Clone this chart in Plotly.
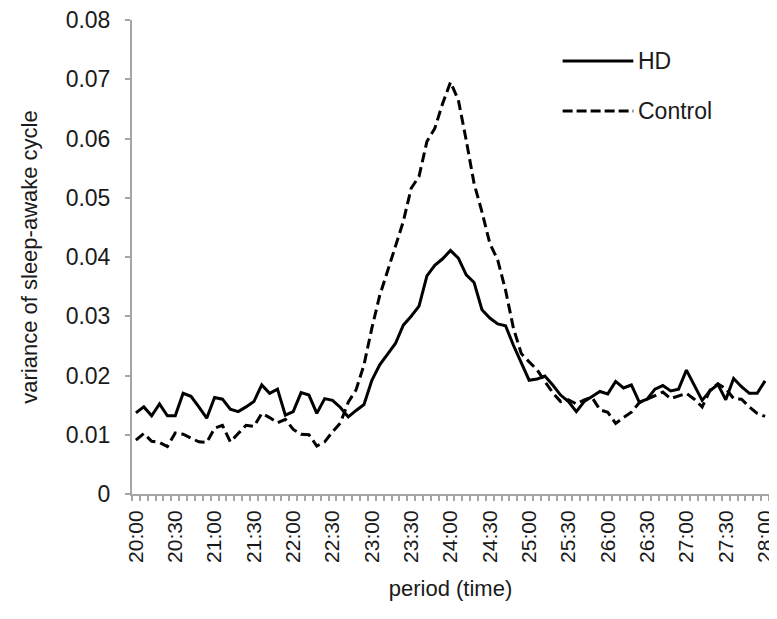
import plotly.graph_objects as go

# 81 samples every 6 minutes from 20:00 to 28:00
time_labels = ["20:00", "20:30", "21:00", "21:30", "22:00", "22:30", "23:00", "23:30",
               "24:00", "24:30", "25:00", "25:30", "26:00", "26:30", "27:00", "27:30", "28:00"]

hd = [0.0137, 0.0147, 0.0132, 0.0152, 0.0132, 0.0132, 0.0170, 0.0165, 0.0147, 0.0128,
      0.0163, 0.0160, 0.0143, 0.0139, 0.0147, 0.0156, 0.0184, 0.0170, 0.0177, 0.0133,
      0.0139, 0.0171, 0.0167, 0.0136, 0.0161, 0.0158, 0.0146, 0.0130, 0.0141, 0.0151,
      0.0192, 0.0218, 0.0236, 0.0254, 0.0285, 0.0300, 0.0317, 0.0368, 0.0386, 0.0397,
      0.0411, 0.0398, 0.0370, 0.0357, 0.0311, 0.0297, 0.0287, 0.0284, 0.0251, 0.0221,
      0.0192, 0.0194, 0.0199, 0.0184, 0.0167, 0.0156, 0.0139, 0.0156, 0.0164, 0.0173,
      0.0169, 0.0190, 0.0179, 0.0184, 0.0155, 0.0160, 0.0177, 0.0183, 0.0174, 0.0177,
      0.0209, 0.0183, 0.0158, 0.0174, 0.0185, 0.0159, 0.0195, 0.0181, 0.0170, 0.0170,
      0.0191]

control = [0.0091, 0.0102, 0.0089, 0.0087, 0.0080, 0.0103, 0.0101, 0.0094, 0.0088, 0.0087,
           0.0111, 0.0116, 0.0088, 0.0102, 0.0116, 0.0114, 0.0136, 0.0129, 0.0120, 0.0126,
           0.0109, 0.0101, 0.0100, 0.0081, 0.0088, 0.0105, 0.0120, 0.0155, 0.0176, 0.0218,
           0.0280, 0.0335, 0.0375, 0.0418, 0.0460, 0.0516, 0.0536, 0.0595, 0.0617, 0.0659,
           0.0695, 0.0665, 0.0597, 0.0524, 0.0476, 0.0423, 0.0395, 0.0344, 0.0280, 0.0237,
           0.0223, 0.0210, 0.0190, 0.0171, 0.0156, 0.0159, 0.0152, 0.0159, 0.0163, 0.0142,
           0.0138, 0.0119, 0.0129, 0.0138, 0.0154, 0.0160, 0.0167, 0.0172, 0.0161, 0.0165,
           0.0170, 0.0160, 0.0147, 0.0175, 0.0186, 0.0178, 0.0161, 0.0160, 0.0147, 0.0136,
           0.0131]

x = list(range(len(hd)))
label_step = 5
tickvals = list(range(0, len(hd), label_step))

FONT = "Liberation Sans, Arial, sans-serif"
TXT = "#1a1a1a"
AX = "#a6a6a6"
FS = 23

fig = go.Figure()
fig.add_trace(go.Scatter(x=x, y=hd, mode="lines", name="HD",
                         line=dict(color="black", width=3), showlegend=False))
fig.add_trace(go.Scatter(x=x, y=control, mode="lines", name="Control",
                         line=dict(color="black", width=3, dash="10px,5px"), showlegend=False))

# legend drawn manually (long line samples as in the reference)
leg = [("HD", "solid", 0.9135), ("Control", "10px,4px", 0.808)]
for name, dash, yy in leg:
    fig.add_shape(type="line", xref="paper", yref="paper", x0=0.676, x1=0.787, y0=yy, y1=yy,
                  line=dict(color="black", width=3, dash=dash))
    fig.add_annotation(xref="paper", yref="paper", x=0.791, y=yy, text=name, showarrow=False,
                       xanchor="left", yanchor="middle", font=dict(size=FS, color=TXT, family=FONT))

fig.update_xaxes(
    range=[-0.5, len(hd) - 0.5],
    tickmode="array", tickvals=tickvals, ticktext=time_labels,
    tickangle=-90, ticks="", showline=True, linecolor=AX, linewidth=2,
    tickfont=dict(size=21, color=TXT, family=FONT), ticklabelstandoff=6,
    ticklabeloverflow="allow",
    minor=dict(ticks="outside", tick0=-0.5, dtick=1, ticklen=5, tickcolor=AX, tickwidth=2, showgrid=False),
    showgrid=False, zeroline=False,
    title=dict(text="period (time)", font=dict(size=FS - 1, color=TXT, family=FONT), standoff=19),
)
fig.update_yaxes(
    range=[0, 0.08], dtick=0.01, tick0=0,
    ticks="outside", ticklen=5, tickcolor=AX, tickwidth=2,
    showline=True, linecolor=AX, linewidth=2,
    tickfont=dict(size=FS, color=TXT, family=FONT), ticklabelstandoff=10,
    ticklabeloverflow="allow",
    showgrid=False, zeroline=False,
    title=dict(text="variance of sleep-awake cycle", font=dict(size=FS - 1, color=TXT, family=FONT), standoff=22),
)
# page body has an 8px margin: compensate so the plot area lands where the reference has it
fig.update_layout(
    width=769, height=611,
    margin=dict(l=124, r=8, t=12, b=125, autoexpand=False),
    paper_bgcolor="white", plot_bgcolor="white",
    font=dict(family=FONT, color=TXT),
)
fig.write_html("out.html")
